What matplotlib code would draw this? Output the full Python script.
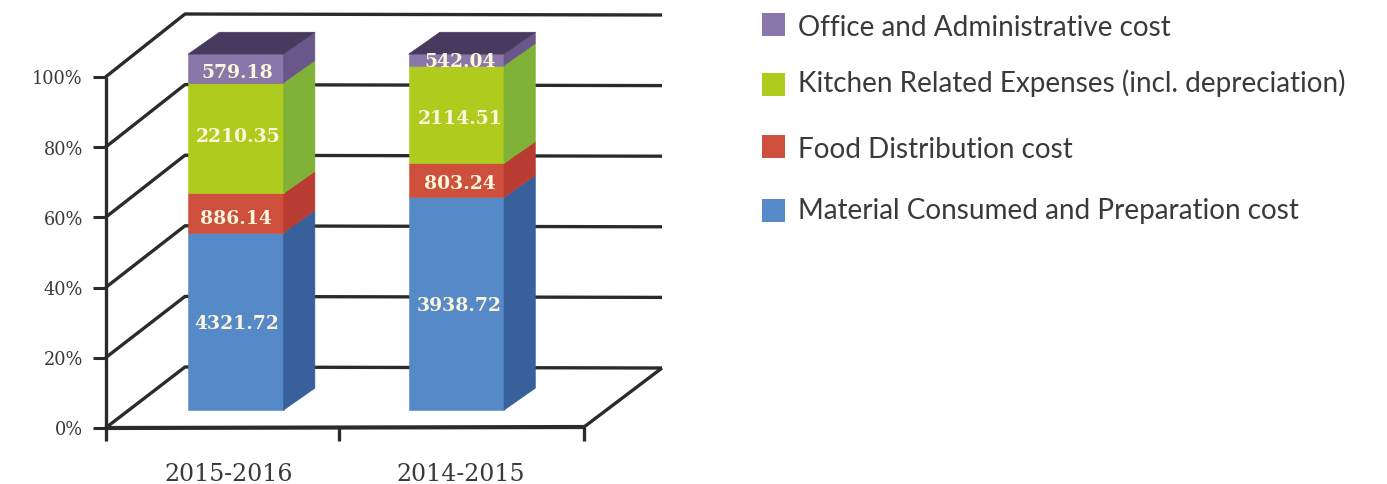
import matplotlib
matplotlib.use("Agg")
import matplotlib.pyplot as plt
from matplotlib.patches import Polygon, Rectangle

# Stack heights as drawn in the picture (percent), bottom to top
periods = ["2015-2016", "2014-2015"]
series = ["Material Consumed and Preparation cost", "Food Distribution cost",
          "Kitchen Related Expenses (incl. depreciation)", "Office and Administrative cost"]
shares_2015 = [49.9, 11.0, 31.1, 8.0]
shares_2014 = [59.8, 9.5, 27.5, 3.2]
labels_2015 = ["4321.72", "886.14", "2210.35", "579.18"]
labels_2014 = ["3938.72", "803.24", "2114.51", "542.04"]
y_ticks = [0, 20, 40, 60, 80, 100]

front_cols = ["#5689C7", "#CE503C", "#AFCB1D", "#8A76A8"]
side_cols = ["#38609A", "#B93C32", "#7FB236", "#6A5789"]
top_col = "#463A5E"
line_col = "#2B2B2B"
text_col = "#3A3A3A"
label_col = "#FBF6DC"

W, H = 1387, 485
fig = plt.figure(figsize=(W / 100, H / 100), dpi=100)
ax = fig.add_axes([0, 0, 1, 1])
ax.set_xlim(0, W)
ax.set_ylim(H - 1, -1)
ax.axis("off")

# box geometry, pixels
ax_x, ax_y0, ax_scale = 105.5, 428, 3.51
wall_x, wall_y0, wall_scale = 185, 367, 3.53
right_x = 584
bar_y0, bar_scale = 410.2, 3.56
bar_w, bar_dx, bar_dy = 95.5, 31.4, -22
bar_left = [188, 408.5]


def axis_y(p):
    return ax_y0 - p * ax_scale


def wall_y(p):
    return wall_y0 - p * wall_scale


def bar_y(p):
    return bar_y0 - p * bar_scale


def line(xs, ys, lw=2.4, z=1):
    ax.plot(xs, ys, color=line_col, lw=lw, solid_capstyle="butt", zorder=z)


# back wall and floor
for p in y_ticks:
    y = axis_y(p)
    line([ax_x, wall_x, 662], [y, wall_y(p), wall_y(p) + 1])
    line([93, ax_x], [y, y], lw=2.2)
    ax.text(83, y + 1.5, "%d%%" % p, family="DejaVu Serif", fontsize=12.8, color=text_col,
            ha="right", va="center")
line([ax_x, ax_x], [axis_y(100), 441], lw=2.4)
line([ax_x, right_x + 1], [ax_y0, ax_y0 - 1], lw=3)
line([right_x, 662], [ax_y0 - 1, wall_y(0) + 1], lw=2.4)
line([339, 339], [ax_y0, 441])
line([right_x, right_x], [ax_y0 - 1, 441])

ax.text(229, 474, periods[0], family="DejaVu Serif", fontsize=17, color=text_col,
        ha="center", va="center")
ax.text(461, 474, periods[1], family="DejaVu Serif", fontsize=17, color=text_col,
        ha="center", va="center")

# stacked bars
nudges = [[(1, 2), (0, 5), (2, -2), (2, 4)], [(3, 1), (4, 3), (4, 3), (4, 1)]]
for b, (left, shares, labels) in enumerate(zip(bar_left, [shares_2015, shares_2014],
                                               [labels_2015, labels_2014])):
    right = left + bar_w
    base = 0
    for s, lab, fc, sc, nudge in zip(shares, labels, front_cols, side_cols, nudges[b]):
        y_low, y_high = bar_y(base), bar_y(base + s)
        ax.add_patch(Rectangle((left, y_high), bar_w, y_low - y_high, fc=fc, ec=fc, lw=0.4, zorder=3))
        ax.add_patch(Polygon([(right, y_low), (right + bar_dx, y_low + bar_dy),
                              (right + bar_dx, y_high + bar_dy), (right, y_high)],
                             fc=sc, ec=sc, lw=0.4, zorder=3))
        ax.text(left + bar_w / 2 + nudge[0], (y_low + y_high) / 2 + nudge[1], lab,
                family="DejaVu Serif", fontsize=13.5, color=label_col, weight="bold",
                ha="center", va="center", zorder=5)
        base += s
    y_top = bar_y(base)
    ax.add_patch(Polygon([(left, y_top), (right, y_top), (right + bar_dx, y_top + bar_dy),
                          (left + bar_dx, y_top + bar_dy)], fc=top_col, ec=top_col, lw=0.4, zorder=3))

# legend
square_y = [210.5, 146.5, 84.5, 24.5]
legend_y = [210.5, 149, 82, 27]
for name, col, sy, y in zip(series, front_cols, square_y, legend_y):
    ax.add_patch(Rectangle((762, sy - 11.5), 23, 23, fc=col, ec="none"))
    ax.text(798, y, name, family="Lato", fontsize=20.05, color=text_col, ha="left", va="center")

fig.savefig("out.png", dpi=100)
